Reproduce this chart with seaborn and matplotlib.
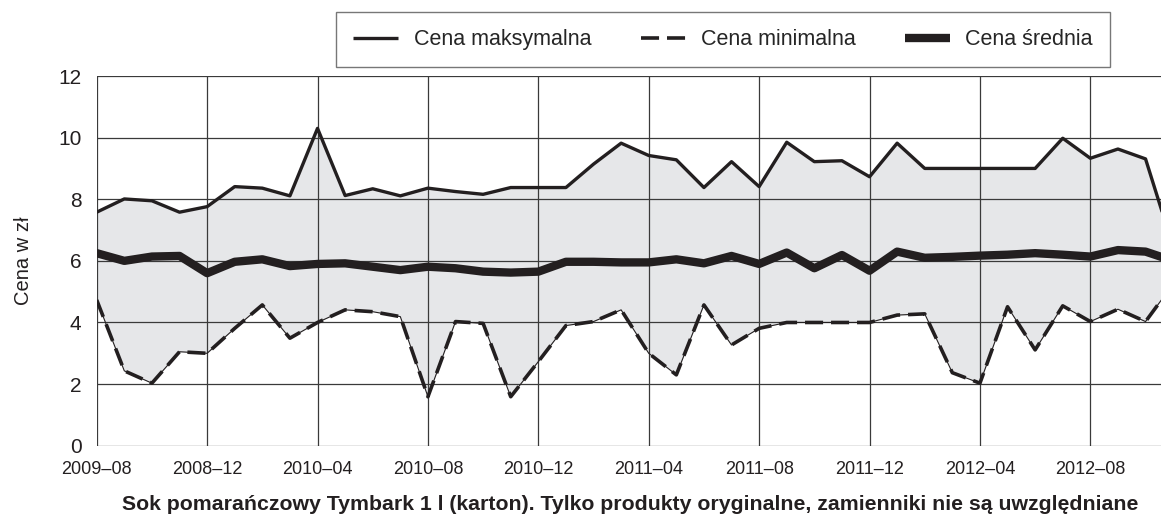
import numpy as np
import pandas as pd
import matplotlib
matplotlib.use('Agg')
import matplotlib.pyplot as plt
from matplotlib.lines import Line2D
import seaborn as sns

# Dane
okres = list(range(40))
tick_labels = ['2009–08', '2008–12', '2010–04', '2010–08', '2010–12',
               '2011–04', '2011–08', '2011–12', '2012–04', '2012–08']
cena_max = [7.58, 8.01, 7.95, 7.58, 7.76, 8.41, 8.36, 8.11, 10.3, 8.12,
            8.34, 8.11, 8.36, 8.25, 8.16, 8.38, 8.38, 8.38, 9.14, 9.82,
            9.42, 9.28, 8.38, 9.22, 8.41, 9.85, 9.22, 9.25, 8.73, 9.82,
            9.0, 9.0, 9.0, 9.0, 9.0, 9.98, 9.33, 9.63, 9.31, 6.45]
cena_min = [4.73, 2.43, 2.03, 3.05, 3.0, 3.81, 4.57, 3.49, 4.0, 4.41,
            4.35, 4.19, 1.59, 4.03, 3.97, 1.59, 2.73, 3.9, 4.03, 4.41,
            3.0, 2.3, 4.57, 3.27, 3.81, 4.0, 4.0, 4.0, 4.0, 4.24,
            4.28, 2.37, 2.03, 4.51, 3.11, 4.54, 4.03, 4.43, 4.03, 5.25]
cena_sr = [6.25, 6.0, 6.14, 6.16, 5.6, 5.97, 6.05, 5.83, 5.9, 5.92,
           5.81, 5.7, 5.81, 5.76, 5.65, 5.62, 5.65, 5.97, 5.97, 5.95,
           5.95, 6.05, 5.92, 6.16, 5.9, 6.27, 5.76, 6.19, 5.68, 6.3,
           6.1, 6.13, 6.17, 6.2, 6.25, 6.2, 6.14, 6.35, 6.3, 6.0]

df = pd.DataFrame({'okres': okres, 'max': cena_max,
                   'min': cena_min, 'sr': cena_sr})

#############
# Wykres    #
#############
sns.set_style('white')
plt.rcParams['font.family'] = ['Liberation Sans', 'DejaVu Sans']
INK = '#231f20'

fig = plt.figure(figsize=(11.61, 5.21), dpi=100)
ax = fig.add_axes([0.0833, 0.1445, 0.9167, 0.7096])

ax.fill_between(df['okres'], df['min'], df['max'], color='#e6e7e9',
                lw=0, zorder=0.3)
sns.lineplot(data=df, x='okres', y='max', color=INK, lw=2.4, ax=ax,
             zorder=3)
sns.lineplot(data=df, x='okres', y='min', color=INK, lw=0.8, ax=ax,
             zorder=3)
sns.lineplot(data=df, x='okres', y='min', color=INK, lw=2.6, ax=ax,
             zorder=3)
ax.lines[-1].set_dashes([5, 2.2])
sns.lineplot(data=df, x='okres', y='sr', color=INK, lw=6.0, ax=ax,
             zorder=4)
for ln in ax.lines:
    ln.set_solid_joinstyle('round')

ax.set_xlim(0, 38.56)
ax.set_ylim(0, 12)
ax.set_xticks(range(0, 40, 4))
ax.set_xticklabels(tick_labels)
ax.set_yticks(range(0, 13, 2))
ax.grid(True, color='#3a3a3a', lw=0.9)
ax.set_axisbelow(True)
for s in ax.spines.values():
    s.set_visible(False)
ax.tick_params(axis='both', length=7, width=0.9, color='#3a3a3a',
               direction='out', labelcolor=INK)
ax.tick_params(axis='y', labelsize=15, pad=4)
ax.tick_params(axis='x', labelsize=13, pad=4)
ax.set_xlabel('')
ax.set_ylabel('Cena w zł', fontsize=14.5, color=INK, labelpad=18)

handles = [Line2D([], [], color=INK, lw=2.4, solid_capstyle='butt'),
           Line2D([], [], color=INK, lw=2.6, dashes=[5, 2.2]),
           Line2D([], [], color=INK, lw=6.0, solid_capstyle='butt')]
labels = ['Cena maksymalna', 'Cena minimalna', 'Cena średnia']
leg = fig.legend(handles, labels, ncol=3, loc='upper left',
                 bbox_to_anchor=(336 / 1161, 1 - 12 / 521),
                 fontsize=15.5, frameon=True, fancybox=False,
                 edgecolor='#555555', handlelength=2.1, handletextpad=0.7,
                 columnspacing=2.3, borderpad=0.8, borderaxespad=0)
leg.get_frame().set_linewidth(1.0)

fig.text(0.5425, 1 - 505 / 521, 'Sok pomarańczowy Tymbark 1 l (karton). Tylko '
         'produkty oryginalne, zamienniki nie są uwzględniane',
         ha='center', va='center', fontsize=15.3, fontweight='bold', color=INK)

fig.savefig('out.png', dpi=100)
